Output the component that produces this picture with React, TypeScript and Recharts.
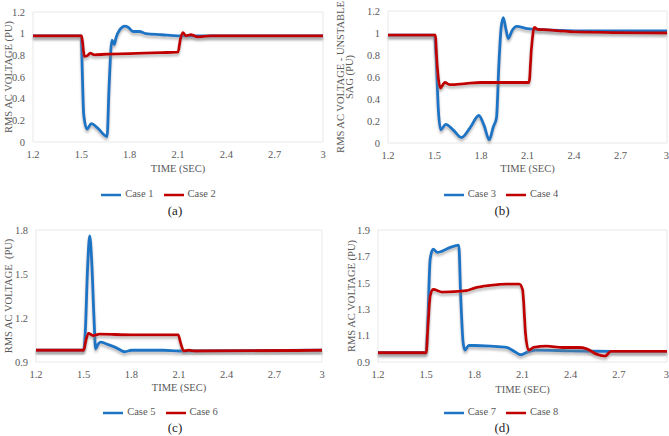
import { Legend, Line, LineChart, ReferenceArea, XAxis, YAxis } from 'recharts';

// time axis shared by all four panels
const timeTicks = [1.2, 1.5, 1.8, 2.1, 2.4, 2.7, 3];
const sagTicks = [0, 0.2, 0.4, 0.6, 0.8, 1, 1.2];
const swellTicksC = [0.9, 1.2, 1.5, 1.8];
const swellTicksD = [0.9, 1.1, 1.3, 1.5, 1.7, 1.9];

// (a)
const case1Time = [1.2, 1.5, 1.505, 1.515, 1.535, 1.562, 1.6, 1.66, 1.672, 1.69, 1.705, 1.715, 1.74, 1.77, 1.79, 1.82, 1.86, 1.9, 2.0, 2.1, 2.2, 3];
const case1Volt = [0.98, 0.98, 0.7, 0.25, 0.12, 0.17, 0.13, 0.05, 0.5, 0.94, 0.9, 0.96, 1.04, 1.07, 1.06, 1.02, 1.02, 1.0, 0.99, 0.98, 0.98, 0.98];
const case2Time = [1.2, 1.5, 1.52, 1.54, 1.555, 1.58, 1.65, 1.8, 2.0, 2.1, 2.115, 2.13, 2.15, 2.18, 2.22, 2.3, 3];
const case2Volt = [0.98, 0.98, 0.79, 0.8, 0.82, 0.805, 0.81, 0.815, 0.825, 0.83, 0.95, 1.01, 0.98, 0.99, 0.97, 0.98, 0.98];

// (b)
const case3Time = [1.2, 1.5, 1.51, 1.525, 1.54, 1.573, 1.62, 1.674, 1.73, 1.786, 1.82, 1.853, 1.88, 1.9, 1.915, 1.93, 1.944, 1.96, 1.976, 2.0, 2.03, 2.1, 2.2, 2.4, 3];
const case3Volt = [0.98, 0.98, 0.8, 0.3, 0.12, 0.17, 0.12, 0.05, 0.14, 0.25, 0.16, 0.03, 0.15, 0.23, 0.7, 1.05, 1.14, 1.04, 0.95, 1.02, 1.06, 1.04, 1.03, 1.02, 1.02];
const case4Time = [1.2, 1.505, 1.515, 1.538, 1.566, 1.6, 1.7, 1.8, 2.11, 2.125, 2.144, 2.17, 2.2, 2.3, 2.4, 3];
const case4Volt = [0.98, 0.98, 0.75, 0.5, 0.55, 0.53, 0.54, 0.55, 0.55, 0.85, 1.05, 1.03, 1.03, 1.02, 1.01, 1.0];

// (c)
const case5Time = [1.2, 1.5, 1.51, 1.525, 1.538, 1.55, 1.565, 1.575, 1.59, 1.605, 1.65, 1.7, 1.76, 1.8, 1.9, 2.0, 2.1, 3];
const case5Volt = [0.98, 0.98, 1.1, 1.55, 1.76, 1.6, 1.2, 0.99, 1.02, 1.035, 1.02, 1.0, 0.97, 0.98, 0.98, 0.98, 0.975, 0.98];
const case6Time = [1.2, 1.5, 1.515, 1.53, 1.56, 1.6, 1.8, 2.0, 2.095, 2.11, 2.13, 2.16, 2.2, 3];
const case6Volt = [0.98, 0.98, 1.05, 1.095, 1.08, 1.09, 1.085, 1.085, 1.085, 1.03, 0.975, 0.98, 0.975, 0.98];

// (d)
const case7Time = [1.2, 1.5, 1.51, 1.525, 1.543, 1.57, 1.6, 1.654, 1.703, 1.715, 1.73, 1.741, 1.766, 1.8, 1.9, 2.0, 2.05, 2.09, 2.13, 2.18, 2.4, 2.7, 3];
const case7Volt = [0.97, 0.97, 1.2, 1.68, 1.755, 1.73, 1.74, 1.77, 1.785, 1.4, 1.05, 0.99, 1.025, 1.025, 1.02, 1.01, 0.98, 0.955, 0.975, 0.99, 0.985, 0.98, 0.98];
const case8Time = [1.2, 1.5, 1.51, 1.525, 1.543, 1.6, 1.7, 1.75, 1.8, 1.9, 2.0, 2.08, 2.1, 2.12, 2.137, 2.17, 2.25, 2.35, 2.45, 2.5, 2.56, 2.615, 2.65, 2.7, 3];
const case8Volt = [0.97, 0.97, 1.15, 1.4, 1.45, 1.43, 1.435, 1.44, 1.46, 1.48, 1.49, 1.49, 1.45, 1.1, 0.99, 1.01, 1.02, 1.01, 1.01, 1.0, 0.96, 0.945, 0.98, 0.98, 0.98];

const BLUE = '#1f74c4';
const RED = '#c00000';
const INK = '#595959';
const FONT = '"Liberation Serif", "Times New Roman", serif';

const toPoints = (time: number[], volt: number[]) => time.map((t, i) => ({ t, v: volt[i] }));

type Series = { name: string; color: string; data: { t: number; v: number }[] };

type PanelProps = {
  id: string;
  left: number;
  top: number;
  width: number;
  height: number;
  plot: { left: number; right: number; top: number; bottom: number };
  yDomain: [number, number];
  yTicks: number[];
  yTitle: { text: string; x: number }[];
  titleOffset: number;
  legendTop: number;
  legendLeft: number;
  caption: string;
  captionX: number;
  captionY: number;
  series: Series[];
};

const tickStyle = { fill: INK, fontSize: 10.5, fontFamily: FONT };

function Panel(p: PanelProps) {
  const yMid = (p.plot.top + p.plot.bottom) / 2;
  return (
    <div style={{ position: 'absolute', left: p.left, top: p.top, width: p.width, height: p.height }}>
      <LineChart
        width={p.width}
        height={p.height}
        margin={{ top: p.plot.top, right: p.width - p.plot.right, left: 0, bottom: 0 }}
        style={{ fontFamily: FONT }}
      >
        <defs>
          <filter id={`shadow-${p.id}`} x="-5%" y="-20%" width="110%" height="140%">
            <feDropShadow dx="0" dy="2.5" stdDeviation="1.2" floodColor="#7f7f7f" floodOpacity="0.55" />
          </filter>
        </defs>
        <XAxis
          dataKey="t"
          type="number"
          domain={[1.2, 3]}
          ticks={timeTicks}
          axisLine={false}
          tickLine={false}
          tickMargin={3}
          height={p.height - p.plot.bottom}
          tick={tickStyle}
          label={{
            value: 'TIME (SEC)',
            position: 'insideTop',
            offset: p.titleOffset,
            fill: INK,
            fontSize: 10.5,
            fontFamily: FONT,
          }}
        />
        <YAxis
          type="number"
          domain={p.yDomain}
          ticks={p.yTicks}
          axisLine={false}
          tickLine={false}
          width={p.plot.left}
          tick={tickStyle}
          label={() => (
            <g>
              {p.yTitle.map((line) => (
                <text
                  key={line.text}
                  transform={`translate(${line.x},${yMid}) rotate(-90)`}
                  textAnchor="middle"
                  dominantBaseline="central"
                  fill={INK}
                  fontSize={10.5}
                  fontFamily={FONT}
                  style={{ whiteSpace: 'pre' }}
                >
                  {line.text}
                </text>
              ))}
            </g>
          )}
        />
        <ReferenceArea x1={1.2} x2={3} y1={p.yDomain[0]} y2={p.yDomain[1]} fill="none" stroke="#e8e8e8" />
        {p.series.map((s) => (
          <Line
            key={s.name}
            data={s.data}
            dataKey="v"
            name={s.name}
            type="monotone"
            stroke={s.color}
            strokeWidth={2.8}
            dot={false}
            filter={`url(#shadow-${p.id})`}
            isAnimationActive={false}
          />
        ))}
        <Legend
          layout="horizontal"
          verticalAlign="middle"
          align="center"
          iconType="plainline"
          iconSize={20}
          wrapperStyle={{ top: p.legendTop, left: p.legendLeft, width: p.width, fontSize: 10.5, fontFamily: FONT }}
          formatter={(value) => <span style={{ color: INK }}>{value}</span>}
        />
      </LineChart>
      <div
        style={{
          position: 'absolute',
          left: p.captionX - 20,
          top: p.captionY - 7,
          width: 40,
          textAlign: 'center',
          fontSize: 13,
          lineHeight: '14px',
          color: '#222',
        }}
      >
        {p.caption}
      </div>
    </div>
  );
}

export default function App() {
  return (
    <div
      style={{
        position: 'absolute',
        left: 0,
        top: 0,
        width: 669,
        height: 436,
        background: '#fff',
        fontFamily: FONT,
        overflow: 'hidden',
      }}
    >
      <Panel
        id="a"
        left={0}
        top={0}
        width={335}
        height={220}
        plot={{ left: 33, right: 323, top: 12, bottom: 142 }}
        yDomain={[0, 1.2]}
        yTicks={sagTicks}
        yTitle={[{ text: 'RMS AC VOLTAGE (PU)', x: 8 }]}
        titleOffset={23}
        legendTop={185}
        legendLeft={-4}
        caption="(a)"
        captionX={175}
        captionY={211}
        series={[
          { name: 'Case 1', color: BLUE, data: toPoints(case1Time, case1Volt) },
          { name: 'Case 2', color: RED, data: toPoints(case2Time, case2Volt) },
        ]}
      />
      <Panel
        id="b"
        left={335}
        top={0}
        width={334}
        height={220}
        plot={{ left: 53, right: 332, top: 11, bottom: 143 }}
        yDomain={[0, 1.2]}
        yTicks={sagTicks}
        yTitle={[
          { text: 'RMS AC VOLTAGE - UNSTABLE', x: 5 },
          { text: 'SAG (PU)', x: 14 },
        ]}
        titleOffset={22}
        legendTop={185}
        legendLeft={4}
        caption="(b)"
        captionX={167}
        captionY={211}
        series={[
          { name: 'Case 3', color: BLUE, data: toPoints(case3Time, case3Volt) },
          { name: 'Case 4', color: RED, data: toPoints(case4Time, case4Volt) },
        ]}
      />
      <Panel
        id="c"
        left={0}
        top={220}
        width={335}
        height={216}
        plot={{ left: 36, right: 322, top: 10, bottom: 142 }}
        yDomain={[0.9, 1.8]}
        yTicks={swellTicksC}
        yTitle={[{ text: 'RMS AC VOLTAGE  (PU)', x: 8 }]}
        titleOffset={22}
        legendTop={183}
        legendLeft={-2}
        caption="(c)"
        captionX={175}
        captionY={208}
        series={[
          { name: 'Case 5', color: BLUE, data: toPoints(case5Time, case5Volt) },
          { name: 'Case 6', color: RED, data: toPoints(case6Time, case6Volt) },
        ]}
      />
      <Panel
        id="d"
        left={335}
        top={220}
        width={334}
        height={216}
        plot={{ left: 43, right: 332, top: 10, bottom: 142 }}
        yDomain={[0.9, 1.9]}
        yTicks={swellTicksD}
        yTitle={[{ text: 'RMS AC VOLTAGE (PU)', x: 16 }]}
        titleOffset={24}
        legendTop={183}
        legendLeft={4}
        caption="(d)"
        captionX={167}
        captionY={208}
        series={[
          { name: 'Case 7', color: BLUE, data: toPoints(case7Time, case7Volt) },
          { name: 'Case 8', color: RED, data: toPoints(case8Time, case8Volt) },
        ]}
      />
    </div>
  );
}
